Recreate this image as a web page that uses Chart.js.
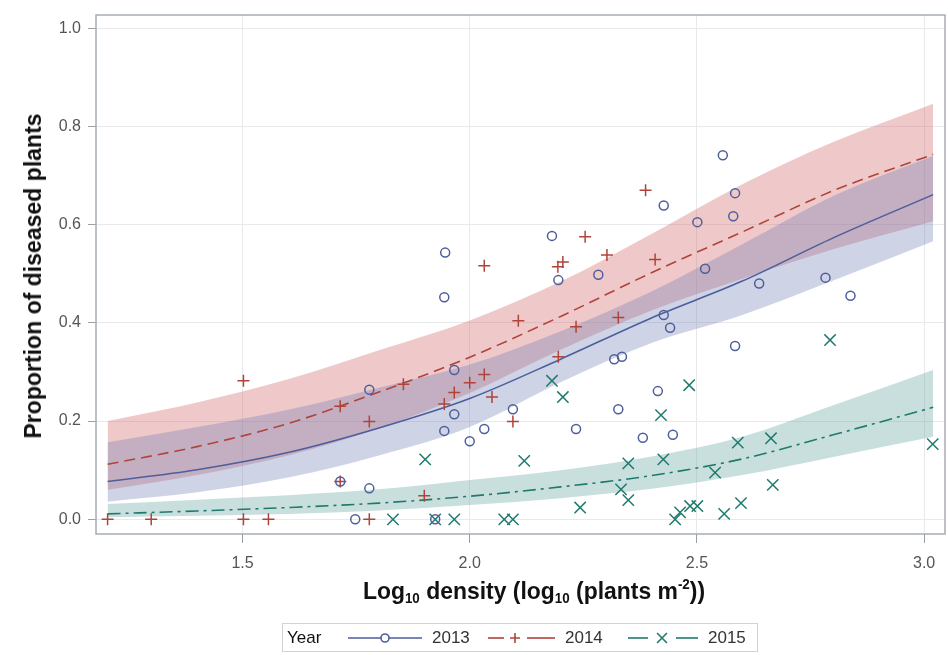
<!DOCTYPE html>
<html>
<head>
<meta charset="utf-8">
<script src="https://cdn.jsdelivr.net/npm/chart.js@4.4.1/dist/chart.umd.min.js"></script>
<style>
  html, body { margin: 0; padding: 0; background: #fff; }
  #wrap { position: relative; width: 948px; height: 655px; }
  canvas { position: absolute; left: 0; top: 0; }
  .ttl { position: absolute; white-space: nowrap; font-family: "Liberation Sans", Arial, sans-serif; font-weight: bold; font-size: 24px; color: #111; }
  #ytitle { left: 33px; top: 276px; transform: translate(-50%, -50%) rotate(-90deg) scaleX(0.96); }
  #xtitle { left: 534px; top: 591px; transform: translate(-50%, -50%) scaleX(0.955); }
  .ttl sub { font-size: 14px; vertical-align: -4px; line-height: 0; }
  .ttl sup { font-size: 14px; vertical-align: 10px; line-height: 0; }
</style>
</head>
<body>
<div id="wrap">
  <canvas id="c" width="948" height="655"></canvas>
  <div class="ttl" id="ytitle">Proportion of diseased plants</div>
  <div class="ttl" id="xtitle">Log<sub>10</sub> density (log<sub>10</sub> (plants m<sup>-2</sup>))</div>
</div>
<script>
// ---- axis ticks ----
const xTicks = [1.5, 2.0, 2.5, 3.0];
const yTicks = [0.0, 0.2, 0.4, 0.6, 0.8, 1.0];
const years = ["2013", "2014", "2015"];

// ---- fitted curves and confidence bands ----
const fitX      = [1.203, 1.4, 1.6, 1.8, 2.0, 2.2, 2.4, 2.6, 2.8, 3.02];
const fit2013   = [0.077, 0.101, 0.136, 0.186, 0.246, 0.326, 0.410, 0.485, 0.573, 0.661];
const lower2013 = [0.036, 0.055, 0.085, 0.130, 0.188, 0.279, 0.359, 0.416, 0.486, 0.566];
const upper2013 = [0.157, 0.188, 0.223, 0.268, 0.315, 0.383, 0.464, 0.560, 0.658, 0.740];
const fit2014   = [0.112, 0.148, 0.195, 0.259, 0.330, 0.413, 0.502, 0.585, 0.669, 0.743];
const lower2014 = [0.060, 0.090, 0.130, 0.185, 0.257, 0.345, 0.425, 0.490, 0.550, 0.607];
const upper2014 = [0.200, 0.238, 0.285, 0.344, 0.405, 0.484, 0.581, 0.682, 0.768, 0.846];
const fit2015   = [0.011, 0.017, 0.024, 0.033, 0.047, 0.066, 0.089, 0.123, 0.172, 0.228];
const lower2015 = [0.004, 0.007, 0.011, 0.018, 0.029, 0.043, 0.062, 0.090, 0.127, 0.168];
const upper2015 = [0.031, 0.040, 0.049, 0.061, 0.080, 0.100, 0.128, 0.168, 0.232, 0.304];

// ---- observed points ----
const x2013 = [1.748, 1.715, 1.779, 1.779, 1.924, 1.944, 1.944, 1.946, 1.966, 1.966, 2.000, 2.032, 2.095, 2.181, 2.195, 2.234, 2.283, 2.318, 2.327, 2.335, 2.381, 2.414, 2.427, 2.427, 2.441, 2.447, 2.501, 2.518, 2.557, 2.580, 2.584, 2.584, 2.637, 2.783, 2.838];
const y2013 = [0.000, 0.077, 0.063, 0.264, 0.000, 0.180, 0.452, 0.543, 0.214, 0.304, 0.159, 0.184, 0.224, 0.577, 0.487, 0.184, 0.498, 0.326, 0.224, 0.331, 0.166, 0.261, 0.416, 0.639, 0.390, 0.172, 0.605, 0.510, 0.741, 0.617, 0.664, 0.353, 0.480, 0.492, 0.455];

const x2014 = [1.203, 1.299, 1.502, 1.557, 1.502, 1.715, 1.715, 1.779, 1.779, 1.854, 1.900, 1.944, 1.966, 2.000, 2.032, 2.032, 2.049, 2.095, 2.107, 2.194, 2.195, 2.205, 2.234, 2.254, 2.302, 2.327, 2.387, 2.408];
const y2014 = [0.000, 0.000, 0.000, 0.000, 0.282, 0.230, 0.077, 0.199, 0.000, 0.275, 0.048, 0.235, 0.258, 0.278, 0.295, 0.516, 0.249, 0.199, 0.404, 0.514, 0.331, 0.524, 0.392, 0.575, 0.538, 0.411, 0.670, 0.529];

const x2015 = [1.831, 1.902, 1.924, 1.966, 2.076, 2.095, 2.120, 2.181, 2.205, 2.243, 2.333, 2.349, 2.349, 2.421, 2.426, 2.452, 2.463, 2.483, 2.485, 2.501, 2.540, 2.560, 2.590, 2.597, 2.663, 2.667, 2.793, 3.019];
const y2015 = [0.000, 0.122, 0.000, 0.000, 0.000, 0.000, 0.119, 0.282, 0.249, 0.024, 0.061, 0.039, 0.114, 0.212, 0.122, 0.000, 0.014, 0.273, 0.027, 0.027, 0.095, 0.011, 0.156, 0.033, 0.165, 0.070, 0.365, 0.153];

// ---- styles ----
const col = { "2013": "#4d5e9c", "2014": "#b0433a", "2015": "#1f7a6e" };
const band = { "2013": "rgba(111,126,179,0.34)", "2014": "rgba(205,92,92,0.33)", "2015": "rgba(102,165,160,0.36)" };
const dash = { "2013": [], "2014": [11, 6], "2015": [13, 5, 3, 5] };
const marker = { "2013": ["circle", 4.5], "2014": ["cross", 6], "2015": ["crossRot", 8] };

const pts = (xs, ys) => xs.map((x, i) => ({ x: x, y: ys[i] }));

const fits = { "2013": fit2013, "2014": fit2014, "2015": fit2015 };
const lows = { "2013": lower2013, "2014": lower2014, "2015": lower2015 };
const ups  = { "2013": upper2013, "2014": upper2014, "2015": upper2015 };
const obsX = { "2013": x2013, "2014": x2014, "2015": x2015 };
const obsY = { "2013": y2013, "2014": y2014, "2015": y2015 };

const datasets = [];
years.forEach(yr => {
  datasets.push({
    label: yr + " upper", data: pts(fitX, ups[yr]), borderWidth: 0, pointRadius: 0,
    backgroundColor: band[yr], fill: "+1", order: 10, cubicInterpolationMode: "monotone"
  });
  datasets.push({
    label: yr + " lower", data: pts(fitX, lows[yr]), borderWidth: 0, pointRadius: 0,
    fill: false, order: 10, cubicInterpolationMode: "monotone"
  });
});
years.forEach(yr => {
  datasets.push({
    label: yr + " fit", data: pts(fitX, fits[yr]), borderColor: col[yr], borderWidth: 1.6,
    borderDash: dash[yr], pointRadius: 0, fill: false, order: 5, cubicInterpolationMode: "monotone"
  });
});
years.forEach(yr => {
  datasets.push({
    label: yr, data: pts(obsX[yr], obsY[yr]), showLine: false, fill: false,
    pointStyle: marker[yr][0], pointRadius: marker[yr][1], pointBorderWidth: 1.5,
    pointBorderColor: col[yr], pointBackgroundColor: "rgba(0,0,0,0)", order: 1
  });
});

const framePlugin = {
  id: "frame",
  afterDraw(chart) {
    const a = chart.chartArea, ctx = chart.ctx;
    ctx.save();
    ctx.strokeStyle = "#a7acb5";
    ctx.lineWidth = 1.5;
    ctx.strokeRect(a.left, a.top, a.right - a.left, a.bottom - a.top);
    ctx.restore();
  }
};

const legendPlugin = {
  id: "yearLegend",
  afterDraw(chart) {
    const ctx = chart.ctx;
    ctx.save();
    ctx.strokeStyle = "#d2d2d2";
    ctx.lineWidth = 1;
    ctx.strokeRect(282.5, 623.5, 475, 28);
    ctx.font = "17px 'Liberation Sans', Arial, sans-serif";
    ctx.textBaseline = "middle";
    ctx.fillStyle = "#111";
    const cy = 638;
    ctx.fillText("Year", 287, cy);
    const items = [
      { yr: "2013", segs: [[348, 422]], mx: 385, tx: 432 },
      { yr: "2014", segs: [[488, 504], [527, 555]], mx: 515, tx: 565 },
      { yr: "2015", segs: [[628, 648], [676, 698]], mx: 662, tx: 708 }
    ];
    items.forEach(it => {
      ctx.strokeStyle = col[it.yr];
      ctx.lineWidth = 1.6;
      it.segs.forEach(sg => {
        ctx.beginPath();
        ctx.moveTo(sg[0], cy); ctx.lineTo(sg[1], cy); ctx.stroke();
      });
      ctx.fillStyle = "#fff";
      Chart.helpers.drawPoint(ctx, {
        pointStyle: marker[it.yr][0], radius: it.yr === "2013" ? 4 : marker[it.yr][1] - 1,
        borderWidth: 1.5, rotation: 0
      }, it.mx, cy);
      ctx.fillStyle = "#333";
      ctx.fillText(it.yr, it.tx, cy);
    });
    ctx.restore();
  }
};

new Chart(document.getElementById("c"), {
  type: "line",
  data: { datasets: datasets },
  options: {
    responsive: false,
    animation: false,
    devicePixelRatio: 1,
    events: [],
    layout: { autoPadding: false, padding: { top: 15, right: 3, left: 0, bottom: 0 } },
    plugins: { legend: { display: false }, tooltip: { enabled: false }, filler: { propagate: false } },
    scales: {
      x: {
        type: "linear", min: 1.1775, max: 3.046,
        afterBuildTicks: s => { s.ticks = xTicks.map(v => ({ value: v })); },
        afterFit: s => { s.height = 121; s.paddingRight = 0; s.paddingLeft = 0; },
        grid: { color: "#e9e9ec", lineWidth: 1, tickLength: 9, tickColor: "#9aa0a8", drawOnChartArea: true },
        border: { display: false },
        ticks: { color: "#555", padding: 11, font: { family: "'Liberation Sans', Arial, sans-serif", size: 16 },
                 callback: v => Number(v).toFixed(1), maxRotation: 0 }
      },
      y: {
        type: "linear", min: -0.0299, max: 1.0267,
        afterBuildTicks: s => { s.ticks = yTicks.map(v => ({ value: v })); },
        afterFit: s => { s.width = 96; s.paddingTop = 0; s.paddingBottom = 0; },
        grid: { color: "#e9e9ec", lineWidth: 1, tickLength: 8, tickColor: "#9aa0a8" },
        border: { display: false },
        ticks: { color: "#555", padding: 7, font: { family: "'Liberation Sans', Arial, sans-serif", size: 16 },
                 callback: v => Number(v).toFixed(1) }
      }
    }
  },
  plugins: [framePlugin, legendPlugin]
});
</script>
</body>
</html>
